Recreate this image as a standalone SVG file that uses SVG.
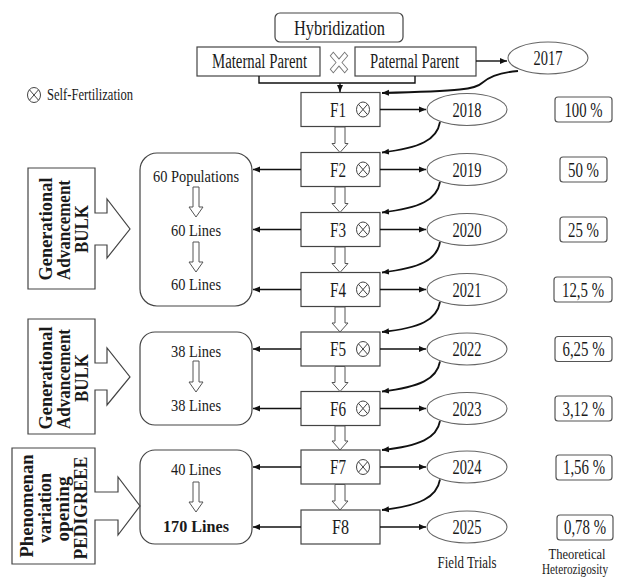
<svg xmlns="http://www.w3.org/2000/svg" width="623" height="581" viewBox="0 0 623 581" font-family="'Liberation Serif','Times New Roman',serif">
<defs>
<style>
text{font-family:"Liberation Serif","Times New Roman",serif;fill:#1a1a1a;}
.t20{font-size:20px;}
.t17{font-size:17px;}
.t15{font-size:15px;}
.mid{text-anchor:middle;}
.box{fill:#fff;stroke:#444;stroke-width:1.2;}
.ell{fill:#fff;stroke:#666;stroke-width:1.1;}
.pct{fill:#fff;stroke:#555;stroke-width:1.2;}
.hol{fill:#fff;stroke:#555;stroke-width:1;}
.ln{fill:none;stroke:#111;stroke-width:1.4;}
.cv{fill:none;stroke:#111;stroke-width:1.8;}
.sym{fill:none;stroke:#444;stroke-width:1;}
.side{font-size:18px;font-weight:bold;text-anchor:middle;}
</style>
<marker id="ah" markerWidth="8" markerHeight="8" refX="7" refY="4" orient="auto" markerUnits="userSpaceOnUse">
<path d="M0,1 L7,4 L0,7 Z" fill="#111"/>
</marker>
<g id="selfsym">
<ellipse cx="0" cy="0" rx="6.5" ry="7.5" class="sym"/>
<line x1="-4.6" y1="-5.3" x2="4.6" y2="5.3" class="sym"/>
<line x1="4.6" y1="-5.3" x2="-4.6" y2="5.3" class="sym"/>
</g>
</defs>
<rect width="623" height="581" fill="#fff"/>

<!-- legend -->
<g id="legend">
<use href="#selfsym" x="34" y="95"/>
<text x="47" y="100" class="t17" textLength="86" lengthAdjust="spacingAndGlyphs">Self-Fertilization</text>
</g>

<!-- top -->
<g id="hybridization">
<rect x="275" y="13" width="128" height="29" rx="5" class="box"/>
<text x="339.5" y="35" class="mid" style="font-size:22px" textLength="91" lengthAdjust="spacingAndGlyphs">Hybridization</text>
</g>
<g id="maternal">
<rect x="197" y="47" width="123" height="29" class="box"/>
<text x="212" y="68" class="t20" textLength="95" lengthAdjust="spacingAndGlyphs">Maternal Parent</text>
</g>
<g id="cross">
<polygon transform="translate(339,62.5) scale(0.85,1) rotate(45)" points="-2.5,-12 2.5,-12 2.5,-2.5 12,-2.5 12,2.5 2.5,2.5 2.5,12 -2.5,12 -2.5,2.5 -12,2.5 -12,-2.5 -2.5,-2.5" fill="#fff" stroke="#777" stroke-width="1"/>
</g>
<g id="paternal">
<rect x="355" y="47" width="121" height="29" class="box"/>
<text x="370" y="68" class="t20" textLength="89" lengthAdjust="spacingAndGlyphs">Paternal Parent</text>
</g>
<g id="y2017">
<ellipse cx="548" cy="58" rx="40" ry="16" class="ell"/>
<text x="548" y="65" class="t20 mid" textLength="29" lengthAdjust="spacingAndGlyphs">2017</text>
</g>

<!-- F boxes -->
<g id="F1"><rect x="301" y="92.5" width="79" height="34" class="box"/><text x="330" y="116.5" class="t20" textLength="16" lengthAdjust="spacingAndGlyphs">F1</text><use href="#selfsym" x="363" y="109.5"/></g>
<g id="F2"><rect x="301" y="152.5" width="79" height="34" class="box"/><text x="330" y="176.5" class="t20" textLength="16" lengthAdjust="spacingAndGlyphs">F2</text><use href="#selfsym" x="363" y="169.5"/></g>
<g id="F3"><rect x="301" y="212.5" width="79" height="34" class="box"/><text x="330" y="236.5" class="t20" textLength="16" lengthAdjust="spacingAndGlyphs">F3</text><use href="#selfsym" x="363" y="229.5"/></g>
<g id="F4"><rect x="301" y="272.5" width="79" height="34" class="box"/><text x="330" y="296.5" class="t20" textLength="16" lengthAdjust="spacingAndGlyphs">F4</text><use href="#selfsym" x="363" y="289.5"/></g>
<g id="F5"><rect x="301" y="332" width="79" height="34" class="box"/><text x="330" y="356" class="t20" textLength="16" lengthAdjust="spacingAndGlyphs">F5</text><use href="#selfsym" x="363" y="349"/></g>
<g id="F6"><rect x="301" y="391.5" width="79" height="34" class="box"/><text x="330" y="415.5" class="t20" textLength="16" lengthAdjust="spacingAndGlyphs">F6</text><use href="#selfsym" x="363" y="408.5"/></g>
<g id="F7"><rect x="301" y="450" width="79" height="34" class="box"/><text x="330" y="474" class="t20" textLength="16" lengthAdjust="spacingAndGlyphs">F7</text><use href="#selfsym" x="363" y="467"/></g>
<g id="F8"><rect x="301" y="510" width="79" height="34" class="box"/><text x="340.5" y="534" class="t20 mid" textLength="17" lengthAdjust="spacingAndGlyphs">F8</text></g>

<!-- year ellipses -->
<g id="y2018"><ellipse cx="467" cy="109.5" rx="40" ry="16" class="ell"/><text x="467" y="116.5" class="t20 mid" textLength="29" lengthAdjust="spacingAndGlyphs">2018</text></g>
<g id="y2019"><ellipse cx="467" cy="169.5" rx="40" ry="16" class="ell"/><text x="467" y="176.5" class="t20 mid" textLength="29" lengthAdjust="spacingAndGlyphs">2019</text></g>
<g id="y2020"><ellipse cx="467" cy="229.5" rx="40" ry="16" class="ell"/><text x="467" y="236.5" class="t20 mid" textLength="29" lengthAdjust="spacingAndGlyphs">2020</text></g>
<g id="y2021"><ellipse cx="467" cy="289.5" rx="40" ry="16" class="ell"/><text x="467" y="296.5" class="t20 mid" textLength="29" lengthAdjust="spacingAndGlyphs">2021</text></g>
<g id="y2022"><ellipse cx="467" cy="349" rx="40" ry="16" class="ell"/><text x="467" y="356" class="t20 mid" textLength="29" lengthAdjust="spacingAndGlyphs">2022</text></g>
<g id="y2023"><ellipse cx="467" cy="408.5" rx="40" ry="16" class="ell"/><text x="467" y="415.5" class="t20 mid" textLength="29" lengthAdjust="spacingAndGlyphs">2023</text></g>
<g id="y2024"><ellipse cx="467" cy="467" rx="40" ry="16" class="ell"/><text x="467" y="474" class="t20 mid" textLength="29" lengthAdjust="spacingAndGlyphs">2024</text></g>
<g id="y2025"><ellipse cx="467" cy="527" rx="40" ry="16" class="ell"/><text x="467" y="534" class="t20 mid" textLength="29" lengthAdjust="spacingAndGlyphs">2025</text></g>

<!-- heterozygosity -->
<g id="h100"><rect x="555" y="97" width="57" height="25" rx="3" class="pct"/><text x="583.5" y="116.5" class="t20 mid" textLength="38" lengthAdjust="spacingAndGlyphs">100 %</text></g>
<g id="h50"><rect x="560" y="157" width="47" height="25" rx="3" class="pct"/><text x="583.5" y="176.5" class="t20 mid" textLength="31" lengthAdjust="spacingAndGlyphs">50 %</text></g>
<g id="h25"><rect x="560" y="217" width="47" height="25" rx="3" class="pct"/><text x="583.5" y="236.5" class="t20 mid" textLength="31" lengthAdjust="spacingAndGlyphs">25 %</text></g>
<g id="h12"><rect x="554" y="277" width="58" height="25" rx="3" class="pct"/><text x="583" y="296.5" class="t20 mid" textLength="42" lengthAdjust="spacingAndGlyphs">12,5 %</text></g>
<g id="h6"><rect x="555" y="336.5" width="57" height="25" rx="3" class="pct"/><text x="583.5" y="356" class="t20 mid" textLength="42" lengthAdjust="spacingAndGlyphs">6,25 %</text></g>
<g id="h3"><rect x="555" y="396" width="57" height="25" rx="3" class="pct"/><text x="583.5" y="415.5" class="t20 mid" textLength="42" lengthAdjust="spacingAndGlyphs">3,12 %</text></g>
<g id="h1"><rect x="556" y="455" width="56" height="25" rx="3" class="pct"/><text x="584" y="474" class="t20 mid" textLength="42" lengthAdjust="spacingAndGlyphs">1,56 %</text></g>
<g id="h0"><rect x="557" y="515" width="56" height="25" rx="3" class="pct"/><text x="585" y="534" class="t20 mid" textLength="42" lengthAdjust="spacingAndGlyphs">0,78 %</text></g>

<!-- panels -->
<g id="panel1">
<rect x="140" y="153" width="112" height="153" rx="17" class="box"/>
<text x="196" y="182" class="t17 mid" textLength="86" lengthAdjust="spacingAndGlyphs">60 Populations</text>
<path d="M193,187 H199 V207 H203 L196,217 L189,207 H193 Z" class="hol"/>
<text x="196" y="236" class="t17 mid" textLength="50" lengthAdjust="spacingAndGlyphs">60 Lines</text>
<path d="M193,242 H199 V262 H203 L196,272 L189,262 H193 Z" class="hol"/>
<text x="196" y="290" class="t17 mid" textLength="50" lengthAdjust="spacingAndGlyphs">60 Lines</text>
</g>
<g id="panel2">
<rect x="140" y="332" width="112" height="93" rx="15" class="box"/>
<text x="196" y="357" class="t17 mid" textLength="50" lengthAdjust="spacingAndGlyphs">38 Lines</text>
<path d="M193,361 H199 V382 H203 L196,392 L189,382 H193 Z" class="hol"/>
<text x="196" y="411" class="t17 mid" textLength="50" lengthAdjust="spacingAndGlyphs">38 Lines</text>
</g>
<g id="panel3">
<rect x="140" y="450" width="112" height="94" rx="15" class="box"/>
<text x="196" y="475" class="t17 mid" textLength="50" lengthAdjust="spacingAndGlyphs">40 Lines</text>
<path d="M193,482 H199 V502 H203 L196,512 L189,502 H193 Z" class="hol"/>
<text x="196" y="532" class="t17 mid" style="font-weight:bold" textLength="66" lengthAdjust="spacingAndGlyphs">170 Lines</text>
</g>

<!-- side boxes -->
<g id="side1">
<polygon points="28,168 95,168 95,213 107,213 107,199 130,229 107,258 107,245 95,245 95,289 28,289" class="box"/>
<text transform="translate(52,229) rotate(-90)" class="side" textLength="103" lengthAdjust="spacingAndGlyphs">Generational</text>
<text transform="translate(70,230) rotate(-90)" class="side" textLength="100" lengthAdjust="spacingAndGlyphs">Advancement</text>
<text transform="translate(88,229) rotate(-90)" class="side" textLength="48" lengthAdjust="spacingAndGlyphs">BULK</text>
</g>
<g id="side2">
<polygon points="28,319 95,319 95,363 107,363 107,348 130,377 107,405 107,390 95,390 95,434 28,434" class="box"/>
<text transform="translate(52,378) rotate(-90)" class="side" textLength="103" lengthAdjust="spacingAndGlyphs">Generational</text>
<text transform="translate(70,379) rotate(-90)" class="side" textLength="100" lengthAdjust="spacingAndGlyphs">Advancement</text>
<text transform="translate(88,378) rotate(-90)" class="side" textLength="48" lengthAdjust="spacingAndGlyphs">BULK</text>
</g>
<g id="side3">
<polygon points="12,448 95,448 95,492 118,492 118,477 140,506 118,535 118,520 95,520 95,564 12,564" class="box"/>
<text transform="translate(33,506) rotate(-90)" class="side" textLength="103" lengthAdjust="spacingAndGlyphs">Phenomenan</text>
<text transform="translate(51,508) rotate(-90)" class="side" textLength="70" lengthAdjust="spacingAndGlyphs">variation</text>
<text transform="translate(69,509) rotate(-90)" class="side" textLength="65" lengthAdjust="spacingAndGlyphs">opening</text>
<text transform="translate(87,508) rotate(-90)" class="side" textLength="103" lengthAdjust="spacingAndGlyphs">PEDIGREEE</text>
</g>

<!-- labels -->
<text x="467" y="568" class="t17 mid" textLength="59" lengthAdjust="spacingAndGlyphs">Field Trials</text>
<text x="577" y="559" class="t15 mid" textLength="57" lengthAdjust="spacingAndGlyphs">Theoretical</text>
<text x="575" y="574" style="font-size:14px" class="mid" textLength="66" lengthAdjust="spacingAndGlyphs">Heterozigosity</text>

<!-- connectors -->
<g id="connectors">
<path d="M259,76 V83 H415 V76" class="ln"/>
<path d="M340,83 V92" class="ln" marker-end="url(#ah)"/>
<path d="M476,61 H507" class="ln" marker-end="url(#ah)"/>
<path d="M518,71 C496,73 488,78 482,83 C476,89 462,91 382,93" class="cv" marker-end="url(#ah)"/>

<g fill="#fff" stroke="#555" stroke-width="1">
<path d="M335,127 H345 V143.5 H348 L340,152.5 L332,143.5 H335 Z"/>
<path d="M335,187 H345 V203.5 H348 L340,212.5 L332,203.5 H335 Z"/>
<path d="M335,247 H345 V263.5 H348 L340,272.5 L332,263.5 H335 Z"/>
<path d="M335,307 H345 V323 H348 L340,332 L332,323 H335 Z"/>
<path d="M335,366.5 H345 V382.5 H348 L340,391.5 L332,382.5 H335 Z"/>
<path d="M335,426 H345 V441 H348 L340,450 L332,441 H335 Z"/>
<path d="M335,484.5 H345 V501 H348 L340,510 L332,501 H335 Z"/>
</g>

<path d="M380,109.5 H426" class="ln" marker-end="url(#ah)"/>
<path d="M380,169.5 H426" class="ln" marker-end="url(#ah)"/>
<path d="M380,229.5 H426" class="ln" marker-end="url(#ah)"/>
<path d="M380,289.5 H426" class="ln" marker-end="url(#ah)"/>
<path d="M380,349 H426" class="ln" marker-end="url(#ah)"/>
<path d="M380,408.5 H426" class="ln" marker-end="url(#ah)"/>
<path d="M380,467 H426" class="ln" marker-end="url(#ah)"/>
<path d="M380,527 H426" class="ln" marker-end="url(#ah)"/>

<path d="M440,122 C437,140 420,148 382,152.5" class="cv" marker-end="url(#ah)"/>
<path d="M440,182 C437,200 420,208 382,212.5" class="cv" marker-end="url(#ah)"/>
<path d="M440,242 C437,260 420,268 382,272.5" class="cv" marker-end="url(#ah)"/>
<path d="M440,302 C437,320 420,328 382,332" class="cv" marker-end="url(#ah)"/>
<path d="M440,361.5 C437,379 420,387 382,391.5" class="cv" marker-end="url(#ah)"/>
<path d="M440,421 C437,438 420,446 382,450" class="cv" marker-end="url(#ah)"/>
<path d="M440,479.5 C437,497 420,506 382,510" class="cv" marker-end="url(#ah)"/>

<path d="M301,169.5 H253" class="ln" marker-end="url(#ah)"/>
<path d="M301,229.5 H253" class="ln" marker-end="url(#ah)"/>
<path d="M301,289.5 H253" class="ln" marker-end="url(#ah)"/>
<path d="M301,349 H253" class="ln" marker-end="url(#ah)"/>
<path d="M301,408.5 H253" class="ln" marker-end="url(#ah)"/>
<path d="M301,467 H253" class="ln" marker-end="url(#ah)"/>
<path d="M301,527 H253" class="ln" marker-end="url(#ah)"/>
</g>
</svg>
